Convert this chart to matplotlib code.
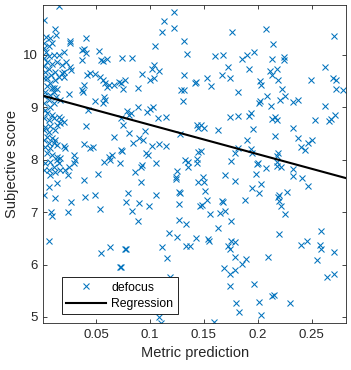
import matplotlib
matplotlib.use("Agg")
import matplotlib.pyplot as plt

plt.rcParams['font.family'] = ['Liberation Sans', 'DejaVu Sans']

pts = [
# mid columns (x ~0.07-0.15, upper)
(0.122,10.815),(0.113,10.643),(0.122,10.515),(0.1115,10.445),(0.132,10.261),(0.105,10.166),
(0.134,10.019),(0.074,9.937),(0.083,9.937),(0.104,9.809),(0.1015,9.733),(0.108,9.695),
(0.093,9.637),(0.1315,9.613),(0.104,9.567),(0.1005,9.517),(0.077,9.523),(0.0735,9.460),
(0.075,9.357),(0.089,9.365),(0.142,9.460),(0.129,9.332),(0.1315,9.332),(0.131,9.128),
(0.089,9.002),(0.1025,9.013),(0.1005,8.964),(0.097,8.918),(0.079,8.926),(0.0825,8.887),
(0.081,8.855),(0.0735,8.792),(0.075,8.664),(0.107,8.792),(0.1145,8.811),(0.144,8.658),
(0.0805,8.517),(0.095,8.550),(0.128,8.492),(0.090,8.422),(0.0935,8.378),(0.084,8.326),
(0.1015,8.263),(0.1085,8.302),(0.115,8.263),(0.0745,8.168),(0.073,8.187),(0.096,8.135),
(0.098,8.092),(0.145,8.155),(0.1325,7.996),(0.1355,7.964),(0.1435,8.010),(0.093,7.906),
(0.1055,7.933),
# x ~0.15-0.22, upper
(0.1765,10.433),(0.2075,10.490),(0.214,10.204),(0.160,9.981),(0.1675,10.000),(0.185,9.918),
(0.1905,9.994),(0.197,10.052),(0.213,9.929),(0.172,9.765),(0.1915,9.727),(0.211,9.695),
(0.2135,9.613),(0.2175,9.727),(0.167,9.613),(0.174,9.567),(0.153,9.561),(0.157,9.408),
(0.143,9.479),(0.202,9.510),(0.2035,9.433),(0.1815,9.288),(0.209,9.212),(0.202,9.116),
(0.201,9.078),(0.2125,9.032),(0.174,8.811),(0.1815,8.830),(0.192,8.830),(0.194,8.887),
(0.213,8.779),(0.2165,8.823),(0.147,8.664),(0.150,8.613),(0.145,8.613),(0.1635,8.569),
(0.196,8.588),(0.216,8.454),(0.1905,8.378),(0.1815,8.231),(0.194,8.206),(0.147,8.174),
(0.179,8.135),(0.1945,8.124),(0.2175,8.078),(0.175,7.977),(0.200,7.939),
# x > 0.22, upper
(0.2705,10.363),(0.2245,9.968),(0.224,9.905),(0.2625,9.765),(0.270,9.567),(0.2725,9.517),
(0.2495,9.523),(0.2185,9.523),(0.2725,9.345),(0.2795,9.332),(0.223,9.345),(0.2255,9.212),
(0.221,9.141),(0.233,9.103),(0.237,9.141),(0.2625,9.032),(0.2175,8.760),(0.2535,8.754),
(0.2665,8.746),(0.268,8.773),(0.2715,8.855),(0.2325,8.601),(0.237,8.410),(0.2465,8.326),
(0.250,8.378),(0.240,8.250),(0.244,8.187),(0.2185,8.124),
# x > 0.22, lower
(0.218,7.882),(0.2215,7.868),(0.2325,7.819),(0.2325,7.691),(0.2415,7.647),(0.247,7.506),
(0.227,7.391),(0.220,7.328),(0.220,7.219),(0.2185,7.284),(0.222,7.118),(0.2255,6.966),
(0.2195,6.584),(0.2585,6.647),(0.240,6.374),(0.2455,6.445),(0.258,6.374),(0.2585,6.303),
(0.2705,6.246),(0.255,6.088),(0.2645,5.758),(0.2705,5.815),(0.230,5.261),(0.2155,5.420),
# x ~0.14-0.22, lower
(0.144,7.945),(0.1995,7.914),(0.208,7.838),(0.218,7.964),(0.1985,7.723),(0.170,7.710),
(0.1785,7.601),(0.149,7.678),(0.1505,7.576),(0.1445,7.571),(0.1515,7.410),(0.195,7.456),
(0.2035,7.532),(0.201,7.366),(0.167,7.219),(0.168,7.189),(0.153,7.227),(0.148,7.137),
(0.188,7.233),(0.165,6.990),(0.170,7.023),(0.156,6.966),(0.1755,6.838),(0.1635,6.693),
(0.143,6.502),(0.154,6.483),(0.155,6.456),(0.175,6.450),(0.1785,6.437),(0.172,6.361),
(0.1745,6.292),(0.1785,6.151),(0.189,6.107),(0.185,6.011),(0.210,6.139),(0.1685,5.930),
(0.1745,5.815),(0.1785,5.897),(0.174,5.592),(0.197,5.624),(0.213,5.401),(0.180,5.261),
(0.201,5.281),(0.183,5.101),(0.2035,5.038),(0.159,4.899),
# x ~0.07-0.14, lower
(0.0915,7.868),(0.086,7.761),(0.1355,7.868),(0.1255,7.786),(0.124,7.678),(0.1245,7.628),
(0.0915,7.571),(0.080,7.361),(0.0775,7.200),(0.083,7.023),(0.0885,6.832),(0.090,7.170),
(0.0995,7.118),(0.106,7.334),(0.127,7.391),(0.1275,7.361),(0.127,7.156),(0.146,7.118),
(0.127,6.851),(0.1335,6.769),(0.118,6.597),(0.125,6.521),(0.1335,6.361),(0.137,6.361),
(0.077,6.304),(0.078,6.292),(0.111,6.342),(0.1155,6.120),(0.073,5.949),(0.119,5.769),
(0.1085,4.994),(0.110,4.880),
# x < 0.07, lower
(0.0014,7.805),(0.006,7.805),(0.0107,7.868),(0.0122,7.773),(0.0076,7.710),(0.0153,7.933),
(0.0169,7.805),(0.0215,7.805),(0.0237,7.710),(0.0246,7.868),(0.0292,7.933),(0.0138,7.996),
(0.0138,7.563),(0.006,7.487),(0.0385,7.615),(0.052,7.723),(0.057,7.964),(0.063,7.996),
(0.002,7.334),(0.0122,7.265),(0.0268,7.189),(0.040,7.284),(0.0494,7.328),(0.0083,7.010),
(0.0092,6.927),(0.024,7.004),(0.054,7.055),(0.006,6.456),(0.055,6.216),(0.0625,6.330),
(0.0725,5.954),
# x < 0.07, upper
(0.0153,10.93),(0.0014,10.668),(0.0122,10.490),(0.0132,10.382),(0.0039,10.349),(0.0076,10.319),
(0.002,10.223),(0.006,10.172),(0.0092,10.223),(0.041,10.319),(0.0262,10.273),(0.0262,10.235),
(0.0199,10.063),(0.037,10.095),(0.0391,10.109),(0.041,10.032),(0.0524,10.076),(0.0546,9.905),
(0.0565,9.885),(0.0602,9.918),(0.037,9.905),(0.0224,9.872),(0.0262,9.777),(0.0268,9.714),
(0.0153,10.000),(0.0107,10.000),(0.0122,9.681),(0.0185,9.651),(0.0153,9.586),(0.0199,9.574),
(0.0447,9.651),(0.0494,9.637),(0.054,9.574),(0.0565,9.523),(0.0586,9.460),(0.0602,9.384),
(0.0617,9.427),(0.071,9.490),(0.0663,9.427),(0.0391,9.427),(0.037,9.332),(0.0379,9.300),
(0.0417,9.618),(0.0246,9.250),(0.0122,9.523),(0.0076,9.460),(0.0045,9.408),(0.0092,9.365),
(0.003,9.300),(0.0107,9.300),(0.0014,9.555),(0.0169,9.141),(0.0494,9.128),(0.0571,9.204),
(0.0586,9.141),(0.0565,9.078),(0.0422,8.950),(0.041,8.645),(0.0045,8.441),(0.0092,8.410),
(0.0122,8.378),(0.0014,8.378),(0.006,8.315),(0.0107,8.315),(0.003,8.250),(0.0076,8.219),
(0.0138,8.282),(0.0199,8.263),(0.0215,8.219),(0.0385,8.302),(0.0447,8.219),(0.0468,8.250),
(0.067,8.429),(0.0045,8.124),(0.0092,8.092),(0.0138,8.059),(0.0169,8.029),(0.007,7.964),
(0.003,7.933),(0.0292,8.092),(0.0308,7.996),(0.0617,8.059),(0.0648,8.092),(0.0725,7.933),
(0.0014,9.078),(0.006,9.141),(0.003,8.950),(0.0076,9.013),(0.0107,9.078),(0.0045,8.887),
(0.0092,8.855),(0.0014,8.792),(0.006,8.760),(0.0107,8.792),(0.0153,8.823),(0.0175,8.773),
(0.0169,8.697),(0.0199,8.727),(0.0138,8.664),(0.003,8.632),(0.0076,8.645),(0.0014,8.569),
(0.0122,8.569),(0.006,8.536),
(0.002,10.134),(0.0039,10.057),(0.0067,9.981),(0.002,9.943),(0.0048,9.866),(0.0095,9.828),
(0.002,9.790),(0.0067,9.733),(0.003,9.675),(0.0085,9.618),(0.0048,9.561),(0.002,9.217),
(0.0076,9.237),(0.0132,9.198),(0.0199,9.681),(0.0138,9.872),(0.0185,9.809),(0.0107,9.365),
(0.0138,9.345),
]
defocus_x = [p[0] for p in pts]
defocus_y = [p[1] for p in pts]

reg_x = [0.001, 0.282]
reg_y = [9.22, 7.65]

x_ticks = [0.05, 0.1, 0.15, 0.2, 0.25]
x_ticklabels = ['0.05', '0.1', '0.15', '0.2', '0.25']
y_ticks = [5, 6, 7, 8, 9, 10]
y_ticklabels = ['5', '6', '7', '8', '9', '10']

blue = (0.0, 0.447, 0.741)
dark = (0.15, 0.15, 0.15)

fig = plt.figure(figsize=(3.51, 3.70), dpi=100)
ax = fig.add_axes([0.1234, 0.127, 0.8624, 0.8595])

ax.plot(defocus_x, defocus_y, linestyle='none', marker='x', color=blue,
        markersize=5.0, markeredgewidth=0.75, label='defocus')
ax.plot(reg_x, reg_y, color='black', linewidth=1.5, label='Regression')

ax.set_xlim(0.001, 0.282)
ax.set_ylim(4.885, 10.954)
ax.set_xticks(x_ticks)
ax.set_xticklabels(x_ticklabels)
ax.set_yticks(y_ticks)
ax.set_yticklabels(y_ticklabels)
ax.tick_params(direction='in', length=3, width=0.6, top=True, right=True,
               labelsize=9.5, colors=dark, pad=4)
for s in ax.spines.values():
    s.set_color(dark)
    s.set_linewidth(0.6)

ax.set_xlabel('Metric prediction', fontsize=10.5, color=dark, labelpad=4)
ax.set_ylabel('Subjective score', fontsize=10.5, color=dark, labelpad=2.5)

leg = ax.legend(loc='lower left', bbox_to_anchor=(0.061, 0.028), borderaxespad=0,
                fontsize=8.8, fancybox=False, framealpha=1, edgecolor='black',
                handlelength=3.3, handletextpad=0.4, labelspacing=0.35,
                borderpad=0.35)
leg.get_frame().set_linewidth(0.6)

fig.savefig('out.png', dpi=100)
